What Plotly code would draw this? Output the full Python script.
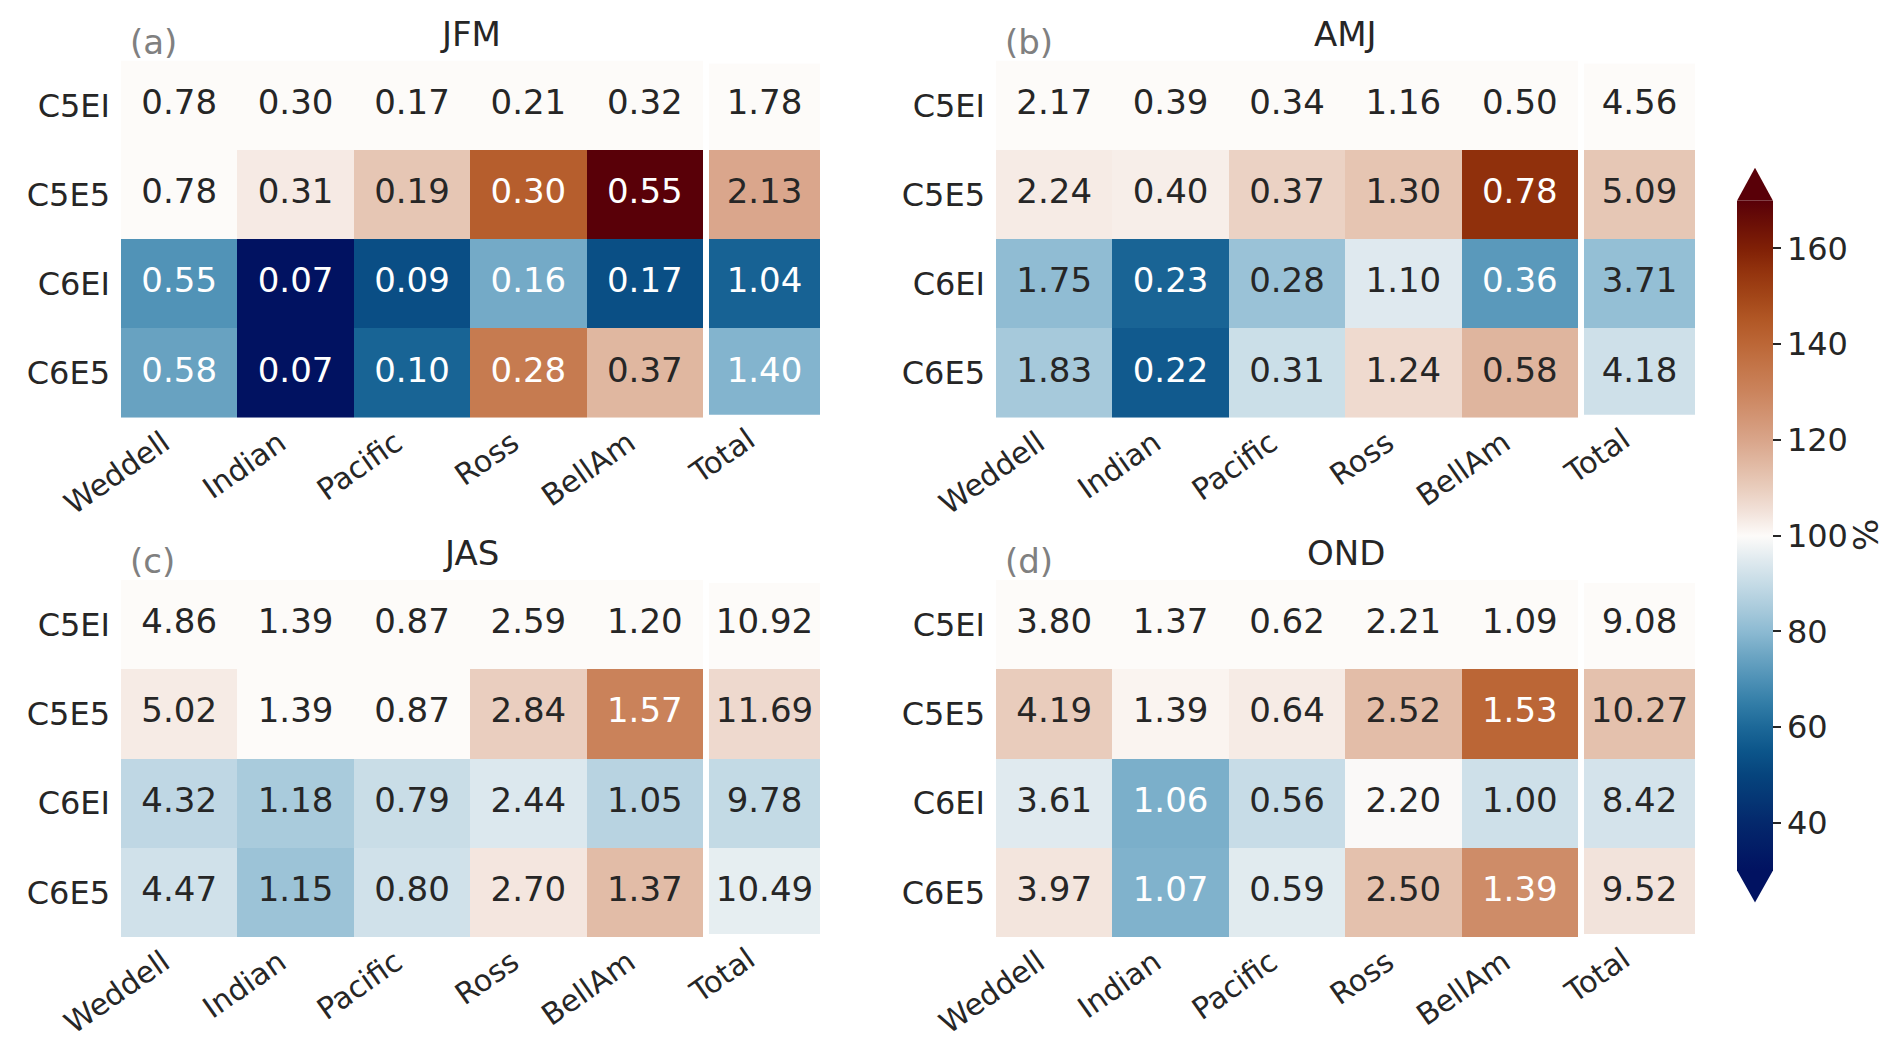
import numpy as np
import plotly.graph_objects as go

# ---------------- data ----------------
seasons = ["JFM", "AMJ", "JAS", "OND"]
panel_labels = ["(a)", "(b)", "(c)", "(d)"]
regions = ["Weddell", "Indian", "Pacific", "Ross", "BellAm"]
total_label = ["Total"]
runs = ["C5EI", "C5E5", "C6EI", "C6E5"]

jfm_regions = [[0.78, 0.30, 0.17, 0.21, 0.32],
               [0.78, 0.31, 0.19, 0.30, 0.55],
               [0.55, 0.07, 0.09, 0.16, 0.17],
               [0.58, 0.07, 0.10, 0.28, 0.37]]
jfm_total = [1.78, 2.13, 1.04, 1.40]

amj_regions = [[2.17, 0.39, 0.34, 1.16, 0.50],
               [2.24, 0.40, 0.37, 1.30, 0.78],
               [1.75, 0.23, 0.28, 1.10, 0.36],
               [1.83, 0.22, 0.31, 1.24, 0.58]]
amj_total = [4.56, 5.09, 3.71, 4.18]

jas_regions = [[4.86, 1.39, 0.87, 2.59, 1.20],
               [5.02, 1.39, 0.87, 2.84, 1.57],
               [4.32, 1.18, 0.79, 2.44, 1.05],
               [4.47, 1.15, 0.80, 2.70, 1.37]]
jas_total = [10.92, 11.69, 9.78, 10.49]

ond_regions = [[3.80, 1.37, 0.62, 2.21, 1.09],
               [4.19, 1.39, 0.64, 2.52, 1.53],
               [3.61, 1.06, 0.56, 2.20, 1.00],
               [3.97, 1.07, 0.59, 2.50, 1.39]]
ond_total = [9.08, 10.27, 8.42, 9.52]

colorbar_ticks = [40, 60, 80, 100, 120, 140, 160]
cmin, cmax = 30, 170

season_regions = [jfm_regions, amj_regions, jas_regions, ond_regions]
season_totals = [jfm_total, amj_total, jas_total, ond_total]

# ---------------- style ----------------
W, H = 1892, 1050
FONT = "DejaVu Sans"
DARK = "#262626"

# diverging colormap (blue - white - orange/brown), value in %
cmap_pts = [
    (30, (1, 18, 97)), (40, (4, 40, 108)), (50, (6, 68, 125)), (55, (12, 85, 138)),
    (60, (28, 104, 152)), (65, (50, 125, 167)), (70, (78, 145, 182)), (75, (108, 165, 195)),
    (80, (140, 186, 210)), (85, (170, 203, 220)), (90, (197, 219, 230)), (95, (224, 234, 239)),
    (100, (253, 251, 249)), (105, (242, 226, 218)), (110, (233, 205, 189)), (115, (225, 185, 163)),
    (120, (217, 165, 138)), (125, (210, 148, 115)), (130, (203, 132, 93)), (135, (196, 118, 74)),
    (140, (188, 103, 55)), (145, (178, 88, 38)), (150, (163, 70, 24)), (155, (148, 52, 14)),
    (160, (128, 32, 6)), (165, (108, 16, 6)), (170, (89, 0, 8)),
]
colorscale = [[(v - cmin) / (cmax - cmin), "rgb(%d,%d,%d)" % c] for v, c in cmap_pts]


def fx(px):
    return px / W


def fy(py):
    return 1 - py / H


def text_colors(pct):
    return ["white" if (p < 80 or p > 125) else DARK for p in pct]


panel_left = [113, 988, 113, 988]
panel_top = [52.7, 52.7, 572, 572]
main_w, main_h = 582, 357
tot_dx, tot_w = 588, 111
row_h = main_h / 4
tot_top_cut, tot_bot_cut = 3.1, 2.9

CELL_FS, ROW_FS, XLAB_FS, TITLE_FS, CB_FS = 34, 32, 30, 34, 32

fig = go.Figure()
layout = {}
annotations = []

for p in range(4):
    reg = np.array(season_regions[p], dtype=float)
    tot = np.array(season_totals[p], dtype=float)
    reg_pct = 100 * reg / reg[0]
    tot_pct = 100 * tot / tot[0]

    im = 2 * p + 1
    it = 2 * p + 2
    xm = "x" if im == 1 else "x%d" % im
    ym = "y" if im == 1 else "y%d" % im
    xt, yt = "x%d" % it, "y%d" % it

    L, T = panel_left[p], panel_top[p]

    # main heatmap
    fig.add_trace(go.Heatmap(z=reg_pct, x=regions, y=runs, coloraxis="coloraxis",
                             xaxis=xm, yaxis=ym, hoverinfo="skip"))
    xs, ys, txt, cols = [], [], [], []
    for i, r in enumerate(runs):
        for j, g in enumerate(regions):
            xs.append(g); ys.append(r); txt.append("%.2f" % reg[i, j])
        cols += text_colors(reg_pct[i])
    fig.add_trace(go.Scatter(x=xs, y=ys, text=txt, mode="text", xaxis=xm, yaxis=ym,
                             textfont=dict(family=FONT, size=CELL_FS, color=cols),
                             hoverinfo="skip", showlegend=False))

    # total heatmap
    fig.add_trace(go.Heatmap(z=tot_pct.reshape(-1, 1), x=total_label, y=runs, coloraxis="coloraxis",
                             xaxis=xt, yaxis=yt, hoverinfo="skip"))
    fig.add_trace(go.Scatter(x=total_label * 4, y=runs, text=["%.2f" % v for v in tot],
                             mode="text", xaxis=xt, yaxis=yt,
                             textfont=dict(family=FONT, size=CELL_FS, color=text_colors(tot_pct)),
                             hoverinfo="skip", showlegend=False))

    axis_common = dict(showgrid=False, zeroline=False, showline=False, type="category",
                       automargin=False, ticks="")
    xlab = dict(tickangle=-35, ticklabelstandoff=1, ticklabelshift=-16,
                tickfont=dict(family=FONT, size=XLAB_FS, color=DARK))
    kx = "xaxis" if im == 1 else "xaxis%d" % im
    ky = "yaxis" if im == 1 else "yaxis%d" % im
    layout[kx] = dict(axis_common, domain=[fx(L), fx(L + main_w)], anchor=ym,
                      range=[-0.5, 4.5], **xlab)
    layout[ky] = dict(axis_common, domain=[fy(T + main_h), fy(T)], anchor=xm,
                      range=[3.5, -0.5], ticklabelstandoff=10,
                      tickfont=dict(family=FONT, size=ROW_FS, color=DARK))
    layout["xaxis%d" % it] = dict(axis_common, domain=[fx(L + tot_dx), fx(L + tot_dx + tot_w)],
                                  anchor=yt, range=[-0.5, 0.5], **xlab)
    layout["yaxis%d" % it] = dict(axis_common, domain=[fy(T + main_h - tot_bot_cut), fy(T + tot_top_cut)],
                                  anchor=xt, showticklabels=False,
                                  range=[3.5 - tot_bot_cut / row_h, -0.5 + tot_top_cut / row_h])

    cx = (L + L + tot_dx + tot_w) / 2
    annotations.append(dict(text=seasons[p], x=fx(cx), y=fy(T - 27), xref="paper", yref="paper",
                            showarrow=False, xanchor="center", yanchor="middle",
                            font=dict(family=FONT, size=TITLE_FS, color=DARK)))
    annotations.append(dict(text=panel_labels[p], x=fx(L + 7), y=fy(T - 19), xref="paper", yref="paper",
                            showarrow=False, xanchor="left", yanchor="middle",
                            font=dict(family=FONT, size=TITLE_FS, color="#808080")))

# colorbar
cb_left, cb_w = 1729, 36
cb_top, cb_bot = 192.7, 862.5
annotations.append(dict(text="%", x=fx(1858), y=fy(527), xref="paper", yref="paper",
                        showarrow=False, textangle=-90, xanchor="center", yanchor="middle",
                        font=dict(family=FONT, size=TITLE_FS, color=DARK)))

shapes = [
    dict(type="path", xref="paper", yref="paper",
         path="M %f,%f L %f,%f L %f,%f Z" % (fx(cb_left), fy(cb_top), fx(cb_left + cb_w), fy(cb_top),
                                             fx(cb_left + cb_w / 2), fy(cb_top - 33)),
         fillcolor=colorscale[-1][1], line=dict(width=0)),
    dict(type="path", xref="paper", yref="paper",
         path="M %f,%f L %f,%f L %f,%f Z" % (fx(cb_left), fy(cb_bot), fx(cb_left + cb_w), fy(cb_bot),
                                             fx(cb_left + cb_w / 2), fy(cb_bot + 32)),
         fillcolor=colorscale[0][1], line=dict(width=0)),
]

fig.update_layout(
    width=W, height=H, margin=dict(l=0, r=0, t=0, b=0, autoexpand=False),
    paper_bgcolor="white", plot_bgcolor="white", showlegend=False,
    font=dict(family=FONT, color=DARK),
    coloraxis=dict(
        colorscale=colorscale, cmin=cmin, cmax=cmax,
        colorbar=dict(x=fx(cb_left), xanchor="left", xref="paper", xpad=0, ypad=0,
                      y=fy((cb_top + cb_bot) / 2), yanchor="middle",
                      lenmode="pixels", len=cb_bot - cb_top, thicknessmode="pixels", thickness=cb_w,
                      outlinewidth=0, ticks="outside", ticklen=8, tickwidth=2, tickcolor=DARK,
                      tickvals=colorbar_ticks, tickfont=dict(family=FONT, size=CB_FS, color=DARK)),
    ),
    annotations=annotations, shapes=shapes, **layout,
)

fig.write_html("out.html")
